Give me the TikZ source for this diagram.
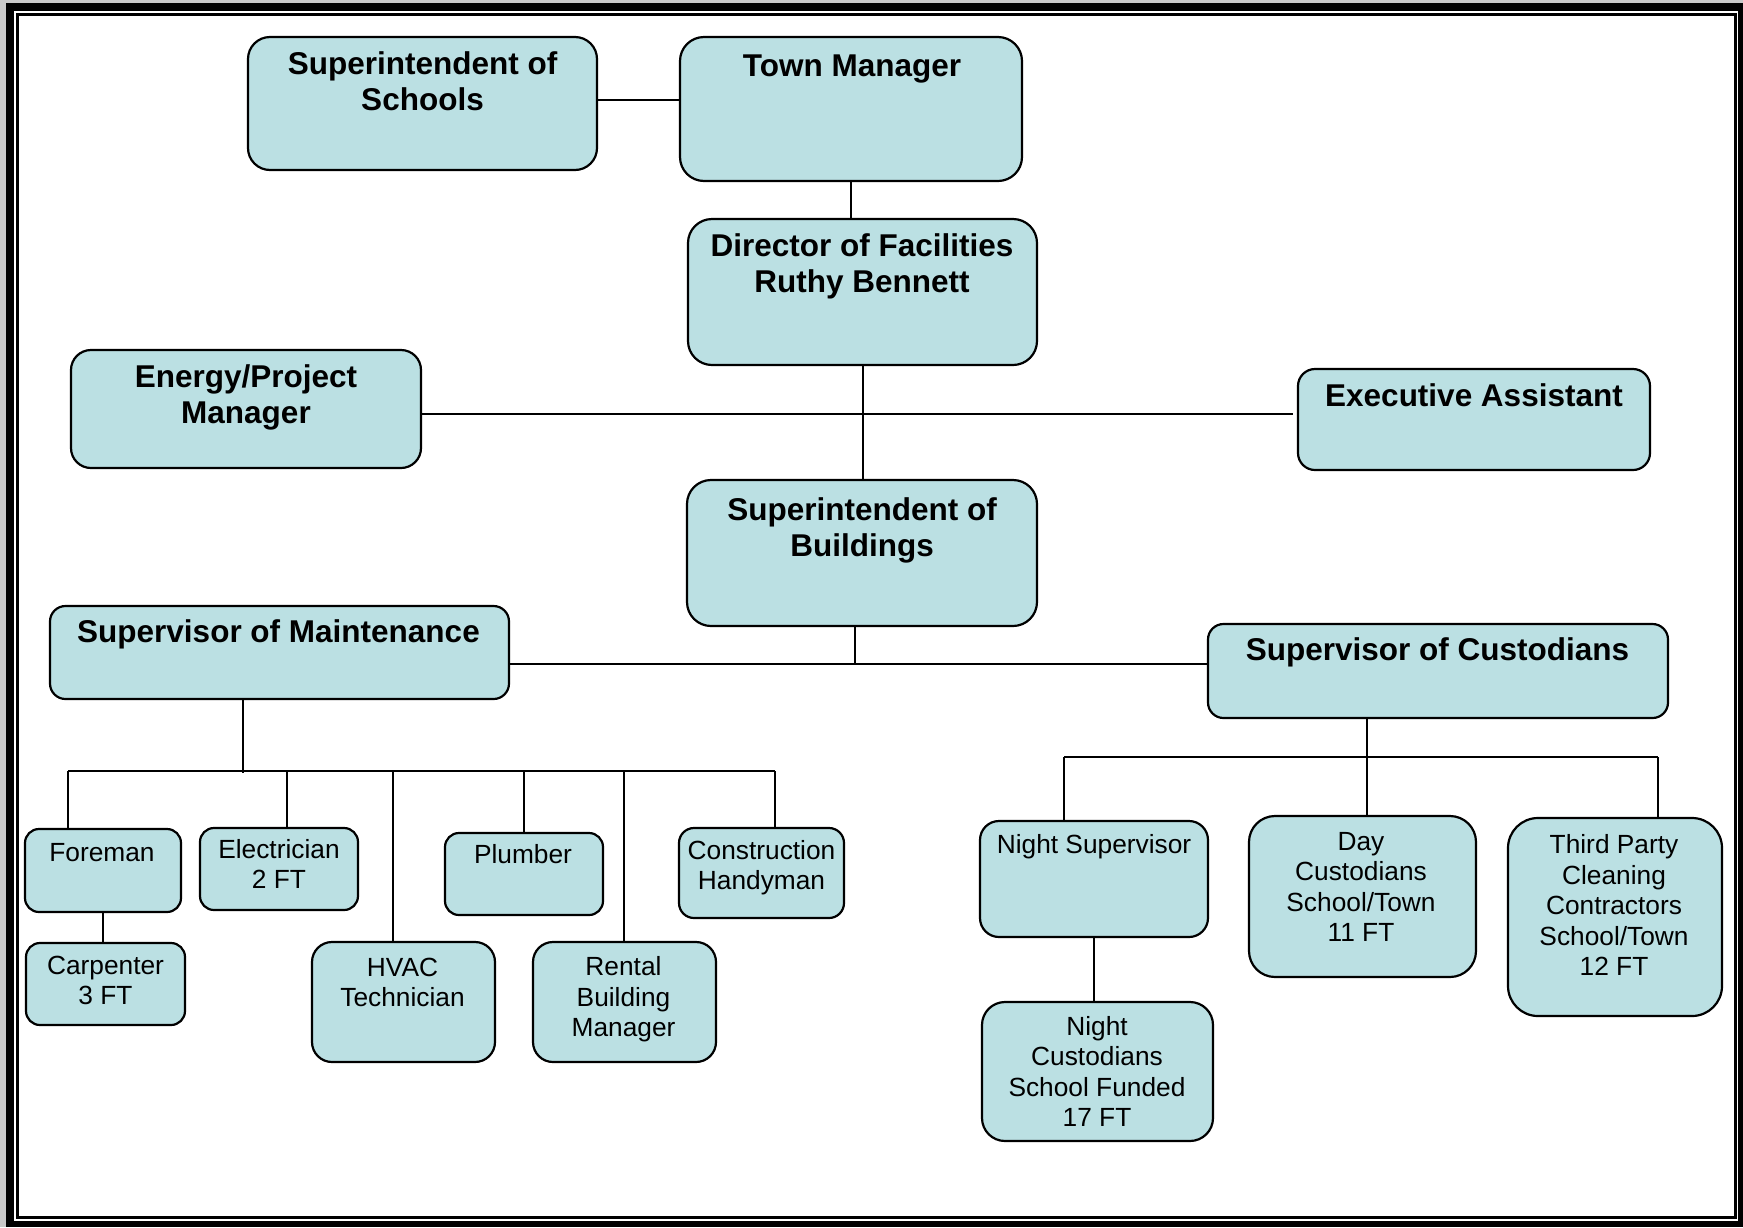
\documentclass[tikz,border=0pt]{standalone}
\usepackage{fontspec}
\setmainfont{Liberation Sans}
\definecolor{boxfill}{RGB}{187,224,227}
\definecolor{framegrey}{RGB}{200,200,200}
\newcommand{\orgbox}[6]{%
  \node[orgb, rounded corners=#6, minimum width={#4-#2}, minimum height={#5-#3}] (#1) at ({(#2+#4)/2},{(#3+#5)/2}) {};}
\begin{document}
\begin{tikzpicture}[x=1pt,y=-1pt,
  orgb/.style={draw=black, line width=2.2pt, fill=boxfill, inner sep=0pt, rectangle},
  ln/.style={draw=black, line width=2pt},
  bt/.style={font=\fontsize{31.5}{36}\bfseries\selectfont, align=center, inner sep=0pt, text height=27pt, text depth=4.4pt},
  rt/.style={font=\fontsize{26.3}{30.4}\selectfont, align=center, inner sep=0pt, text height=22.6pt, text depth=3.7pt}]
\useasboundingbox (0,0) rectangle (1743,1227);
% frame
\fill[white] (0,0) rectangle (1743,1227);
\fill[framegrey] (0,0) rectangle (6,1227);
\fill[framegrey] (0,0) rectangle (1743,3);
\fill[black] (6,3) rectangle (1743,1227);
\fill[white] (14,11) rectangle (1738,1221);
\draw[line width=3pt] (17.5,14.5) rectangle (1735.5,1217.5);
% boxes
\orgbox{schools}{248}{37}{597}{170}{22}
\orgbox{town}{680}{37}{1022}{181}{24}
\orgbox{director}{688}{219}{1037}{365}{24}
\orgbox{energy}{71}{350}{421}{468}{20}
\orgbox{exec}{1298}{369}{1650}{470}{17}
\orgbox{sob}{687}{480}{1037}{626}{24}
\orgbox{maint}{50}{606}{509}{699}{15.5}
\orgbox{cust}{1208}{624}{1668}{718}{15.5}
\orgbox{foreman}{25}{829}{181}{912}{14}
\orgbox{electrician}{200}{828}{358}{910}{14}
\orgbox{plumber}{445}{833}{603}{915}{14}
\orgbox{construction}{679}{828}{844}{918}{15}
\orgbox{carpenter}{26}{943}{185}{1025}{14}
\orgbox{hvac}{312}{942}{495}{1062}{20}
\orgbox{rental}{533}{942}{716}{1062}{20}
\orgbox{nightsup}{980}{821}{1208}{937}{19}
\orgbox{day}{1249}{816}{1476}{977}{26}
\orgbox{third}{1508}{818}{1722}{1016}{30}
\orgbox{nightcust}{982}{1002}{1213}{1141}{23}
% texts (y = centre of the last line)
\node[bt] (t-schools) at (422.5,99) {Superintendent of\\Schools};
\node[bt] (t-town) at (852,65) {Town Manager};
\node[bt] (t-director) at (862,281) {Director of Facilities\\Ruthy Bennett};
\node[bt] (t-energy) at (246,412) {Energy/Project\\Manager};
\node[bt] (t-exec) at (1474,395) {Executive Assistant};
\node[bt] (t-sob) at (862,545) {Superintendent of\\Buildings};
\node[bt] (t-maint) at (278.5,631) {Supervisor of Maintenance};
\node[bt] (t-cust) at (1437.5,649) {Supervisor of Custodians};
\node[rt] (t-foreman) at (102,852) {Foreman};
\node[rt] (t-electrician) at (279,879) {Electrician\\2 FT};
\node[rt] (t-plumber) at (523,854) {Plumber};
\node[rt] (t-construction) at (761.5,880) {Construction\\Handyman};
\node[rt] (t-carpenter) at (105.5,995) {Carpenter\\3 FT};
\node[rt] (t-hvac) at (402.5,997) {HVAC\\Technician};
\node[rt] (t-rental) at (623.5,1027) {Rental\\Building\\Manager};
\node[rt] (t-nightsup) at (1094,844) {Night Supervisor};
\node[rt] (t-day) at (1361,932) {Day\\Custodians\\School/Town\\11 FT};
\node[rt] (t-third) at (1614,966) {Third Party\\Cleaning\\Contractors\\School/Town\\12 FT};
\node[rt] (t-nightcust) at (1097,1117) {Night\\Custodians\\School Funded\\17 FT};
% connectors
\coordinate (c1) at ([yshift=3.5pt]schools.east);
\draw[ln] (c1) -- (c1 -| town.west);
\draw[ln] (town.south) -- (town.south |- director.north);
\draw[ln] (director.south) -- (director.south |- sob.north);
\coordinate (j1) at (863,414);
\coordinate (j1e) at (1293,414);
\draw[ln] (energy.east |- j1) -- (j1e);
\coordinate (j2) at (855,664);
\draw[ln] (sob.south -| j2) -- (j2);
\draw[ln] (maint.east |- j2) -- (cust.west |- j2);
\coordinate (mj) at (243,773);
\draw[ln] (maint.south -| mj) -- (mj);
\coordinate (mbL) at (68,771);
\coordinate (mbR) at (775,771);
\coordinate (d1) at (287,771);
\coordinate (d2) at (393,771);
\coordinate (d3) at (524,771);
\coordinate (d4) at (624,771);
\draw[ln] (mbL) -- (mbR);
\draw[ln] (mbL) -- (mbL |- foreman.north);
\draw[ln] (d1) -- (d1 |- electrician.north);
\draw[ln] (d2) -- (d2 |- hvac.north);
\draw[ln] (d3) -- (d3 |- plumber.north);
\draw[ln] (d4) -- (d4 |- rental.north);
\draw[ln] (mbR) -- (mbR |- construction.north);
\draw[ln] (foreman.south) -- (foreman.south |- carpenter.north);
\coordinate (cj) at (1367,757);
\coordinate (cbL) at (1064,757);
\coordinate (cbR) at (1658,757);
\draw[ln] (cust.south -| cj) -- (cj |- day.north);
\draw[ln] (cbL) -- (cbR);
\draw[ln] (cbL) -- (cbL |- nightsup.north);
\draw[ln] (cbR) -- (cbR |- third.north);
\draw[ln] (nightsup.south) -- (nightsup.south |- nightcust.north);
\end{tikzpicture}
\end{document}
